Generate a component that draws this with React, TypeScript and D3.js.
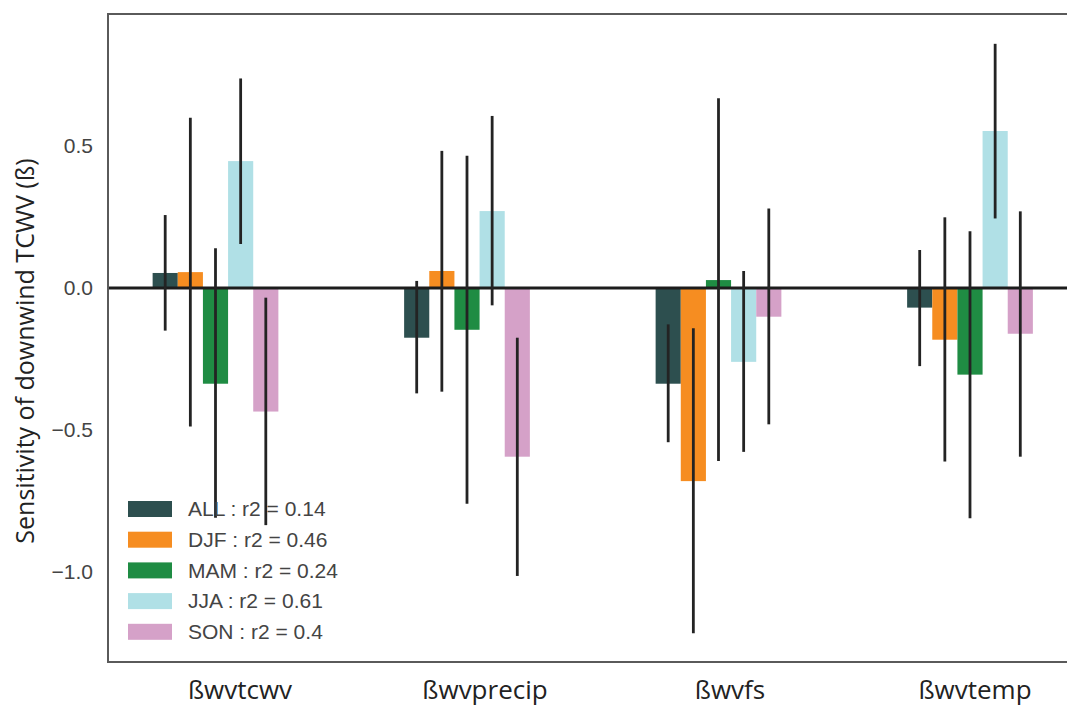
import React from "react";
import * as d3 from "d3";

// Predictor groups on the x axis
const predictors = ["ßwvtcwv", "ßwvprecip", "ßwvfs", "ßwvtemp"];

// Seasonal subsets (hue) with their regression r2
const seasons = ["ALL", "DJF", "MAM", "JJA", "SON"];
const r2Values = ["0.14", "0.46", "0.24", "0.61", "0.4"];
const seasonColors = ["#2d4f4f", "#f68d21", "#1f8c43", "#b0e0e6", "#d5a1c8"];

// Sensitivity coefficients, one array per season (order follows predictors)
const allValues = [0.053, -0.175, -0.337, -0.069];
const djfValues = [0.056, 0.06, -0.68, -0.182];
const mamValues = [-0.337, -0.147, 0.028, -0.305];
const jjaValues = [0.447, 0.271, -0.26, 0.553];
const sonValues = [-0.435, -0.594, -0.101, -0.161];

// Confidence interval bounds [low, high]
const allCI = [[-0.15, 0.257], [-0.371, 0.025], [-0.543, -0.128], [-0.275, 0.134]];
const djfCI = [[-0.488, 0.6], [-0.365, 0.483], [-1.216, -0.142], [-0.611, 0.249]];
const mamCI = [[-0.809, 0.14], [-0.76, 0.466], [-0.609, 0.668], [-0.811, 0.2]];
const jjaCI = [[0.155, 0.738], [-0.061, 0.606], [-0.577, 0.06], [0.245, 0.86]];
const sonCI = [[-0.835, -0.034], [-1.014, -0.175], [-0.48, 0.28], [-0.594, 0.27]];

const yTicks = [0.5, 0.0, -0.5, -1.0];

const seriesValues = [allValues, djfValues, mamValues, jjaValues, sonValues];
const seriesCI = [allCI, djfCI, mamCI, jjaCI, sonCI];

const W = 1067;
const H = 709;
const plotLeft = 108;
const plotTop = 14;
const plotBottom = 662;

export default function App() {
  const x = d3.scaleLinear().domain([0, 3]).range([215.5, 970]);
  const labelX = d3.scaleLinear().domain([0, 3]).range([240, 975]);
  const y = d3.scaleLinear().domain([-1.317, 0.965]).range([plotBottom, plotTop]);
  const hueWidth = 0.1;
  const fmt = (v: number) => d3.format(".1f")(v).replace("-", "\u2212");

  return (
    <div style={{ position: "fixed", left: 0, top: 0 }}>
      <svg width={W} height={H} style={{ display: "block", background: "#fff" }}>
        {/* bars */}
        {seriesValues.map((vals, k) =>
          vals.map((v, i) => {
            const cx = i + (k - 2) * hueWidth;
            const x0 = x(cx - hueWidth / 2);
            const x1 = x(cx + hueWidth / 2);
            const y0 = y(Math.max(0, v));
            const y1 = y(Math.min(0, v));
            return (
              <rect
                key={`b-${k}-${i}`}
                x={x0}
                y={y0}
                width={x1 - x0}
                height={y1 - y0}
                fill={seasonColors[k]}
              />
            );
          })
        )}
        {/* zero reference line */}
        <line x1={plotLeft} x2={W} y1={y(0)} y2={y(0)} stroke="#1c1c1c" strokeWidth={3} />
        {/* confidence intervals */}
        {seriesCI.map((cis, k) =>
          cis.map((ci, i) => {
            const cx = x(i + (k - 2) * hueWidth);
            return (
              <line
                key={`e-${k}-${i}`}
                x1={cx}
                x2={cx}
                y1={y(ci[0])}
                y2={y(ci[1])}
                stroke="#232323"
                strokeWidth={2.8}
              />
            );
          })
        )}
        {/* spines */}
        <line x1={plotLeft} x2={plotLeft} y1={plotTop} y2={plotBottom} stroke="#5a5a5a" strokeWidth={2} />
        <line x1={plotLeft - 1} x2={W} y1={plotTop} y2={plotTop} stroke="#5a5a5a" strokeWidth={2} />
        <line x1={plotLeft - 1} x2={W} y1={plotBottom} y2={plotBottom} stroke="#5a5a5a" strokeWidth={2} />
        {/* y tick labels */}
        {yTicks.map((t) => (
          <text
            key={`yt-${t}`}
            x={93}
            y={y(t)}
            dy="0.35em"
            textAnchor="end"
            fontFamily="'Liberation Sans', Arial, sans-serif"
            fontSize={21}
            fill="#444"
          >
            {fmt(t)}
          </text>
        ))}
        {/* y axis label */}
        <text
          transform={`translate(34, 351) rotate(-90)`}
          textAnchor="middle"
          fontFamily="'Open Sans', sans-serif"
          fontSize={25}
          fill="#222"
        >
          Sensitivity of downwind TCWV (ß)
        </text>
        {/* x tick labels */}
        {predictors.map((p, i) => (
          <text
            key={`xt-${p}`}
            x={labelX(i)}
            y={699}
            textAnchor="middle"
            fontFamily="'Open Sans', sans-serif"
            fontSize={26}
            fill="#222"
          >
            {p}
          </text>
        ))}
        {/* legend */}
        {seasons.map((s, k) => {
          const cy = 509 + k * 30.7;
          return (
            <g key={`lg-${s}`}>
              <rect x={128} y={cy - 8} width={44} height={16} fill={seasonColors[k]} />
              <text
                x={188}
                y={cy}
                dy="0.35em"
                fontFamily="'Liberation Sans', Arial, sans-serif"
                fontSize={21}
                fill="#444"
              >
                {`${s} : r2 = ${r2Values[k]}`}
              </text>
            </g>
          );
        })}
      </svg>
    </div>
  );
}
